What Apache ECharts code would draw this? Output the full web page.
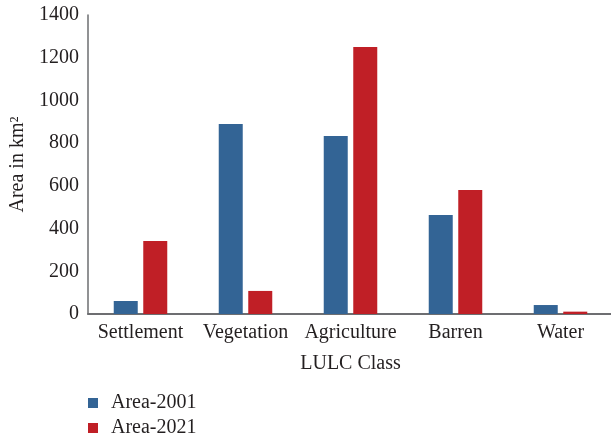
<!DOCTYPE html>
<html><head><meta charset="utf-8">
<script src="https://cdn.jsdelivr.net/npm/echarts@6/dist/echarts.min.js"></script>
<style>html,body{margin:0;padding:0;background:#fff}#c{width:611px;height:441px}</style>
</head><body><div id="c"></div>
<script>
const categories = ['Settlement','Vegetation','Agriculture','Barren','Water'];
const area2001 = [61, 890, 833, 463, 42];
const area2021 = [342, 108, 1250, 581, 11];
const seriesNames = ['Area-2001','Area-2021'];
const FONT = 'Liberation Serif';
const FS = 20;
const chart = echarts.init(document.getElementById('c'));
const legendBase = {orient:'vertical',left:88,padding:0,itemWidth:10,itemHeight:10,icon:'rect',
    textStyle:{fontFamily:FONT,fontSize:FS,color:'#231f20',padding:[0,0,0,8]}};
chart.setOption({
  animation:false,
  textStyle:{fontFamily:FONT,color:'#231f20'},
  grid:{left:88,top:15,width:525,height:299,containLabel:false,outerBoundsMode:'none'},
  legend:[
    Object.assign({},legendBase,{top:393,data:[seriesNames[0]]}),
    Object.assign({},legendBase,{top:418,data:[seriesNames[1]]})
  ],
  xAxis:{type:'category',data:categories,
    axisLine:{lineStyle:{color:'#6d6e71',width:2}},axisTick:{show:false},
    axisLabel:{fontFamily:FONT,fontSize:FS,color:'#231f20',margin:9,interval:0},
    name:'LULC Class',nameLocation:'middle',nameGap:40,
    nameTextStyle:{fontFamily:FONT,fontSize:FS,color:'#231f20'}},
  yAxis:{type:'value',min:0,max:1400,interval:200,
    axisLine:{show:true,lineStyle:{color:'#6d6e71',width:1.5}},axisTick:{show:false},splitLine:{show:false},
    axisLabel:{fontFamily:FONT,fontSize:FS,color:'#231f20',margin:9,formatter:v=>String(v)},
    name:'Area in km²',nameLocation:'middle',nameGap:60,
    nameTextStyle:{fontFamily:FONT,fontSize:FS,color:'#231f20'}},
  series:[
    {name:seriesNames[0],type:'bar',data:area2001,barWidth:24,barGap:'23%',itemStyle:{color:'#336495'}},
    {name:seriesNames[1],type:'bar',data:area2021,barWidth:24,barGap:'23%',itemStyle:{color:'#c01f26'}}
  ]
});
</script></body></html>
